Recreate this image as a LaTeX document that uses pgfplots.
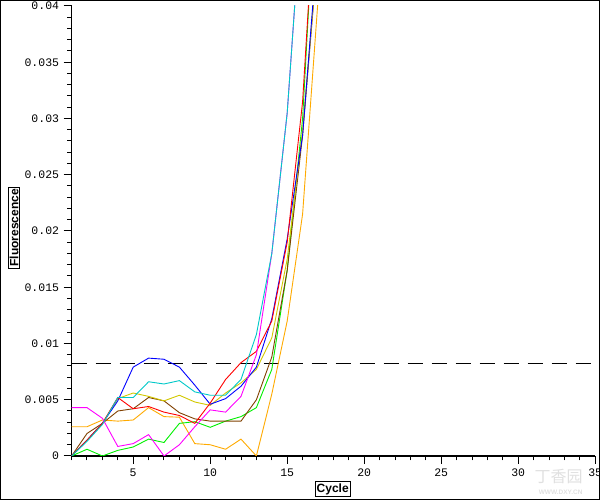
\documentclass[border=0pt]{standalone}
\usepackage{fontspec}
\setmainfont{Liberation Sans}
\setmonofont{Liberation Mono}
\newfontfamily\cjk{Noto Sans CJK SC}
\usepackage{pgfplots}
\pgfplotsset{compat=1.18}
\definecolor{cMag}{RGB}{255,0,255}
\definecolor{cCyan}{RGB}{0,200,200}
\definecolor{cBlue}{RGB}{0,0,255}
\definecolor{cRed}{RGB}{255,0,0}
\definecolor{cGreen}{RGB}{0,240,0}
\definecolor{cYel}{RGB}{210,200,0}
\definecolor{cBrown}{RGB}{128,64,0}
\definecolor{cOrange}{RGB}{255,170,0}
\begin{document}
\begin{tikzpicture}
\useasboundingbox (-71.6pt,-44pt) rectangle (528.4pt,456pt);
\clip (-71.6pt,-44pt) rectangle (528.4pt,456pt);
\node[text=black!12,font=\cjk\fontsize{16}{16}\selectfont] at (487pt,-20pt) {丁香园};
\node[text=black!12,font=\fontsize{6.5}{7}\selectfont\bfseries] at (489pt,-36pt) {WWW.DXY.CN};
\begin{axis}[
  at={(0,0)}, anchor=south west,
  width=523.6pt, height=450pt, scale only axis,
  xmin=1, xmax=35, ymin=0, ymax=0.04,
  axis lines=left,
  axis line style={-, line width=1.4pt},
  tick align=outside,
  major tick length=8pt, minor tick length=4.5pt,
  every tick/.style={black, line width=1pt},
  xtick={5,10,15,20,25,30,35},
  xticklabels={5,10,15,20,25,30,35},
  minor xtick={1,2,3,4,6,7,8,9,11,12,13,14,16,17,18,19,21,22,23,24,26,27,28,29,31,32,33,34},
  ytick={0,0.005,0.01,0.015,0.02,0.025,0.03,0.035,0.04},
  yticklabels={0,0.005,0.01,0.015,0.02,0.025,0.03,0.035,0.04},
  minor y tick num=4,
  scaled y ticks=false,
  ticklabel style={font=\fontsize{11.5}{12}\selectfont\ttfamily},
  yticklabel style={xshift=-1pt},
  xticklabel style={yshift=-1pt},
  xlabel={Cycle},
  ylabel={Fluorescence},
  xlabel style={at={(axis description cs:0.4987,-0.0733)}, anchor=center, draw=black, line width=1pt, inner sep=1.5pt, font=\fontsize{12}{13}\selectfont\bfseries},
  ylabel style={at={(axis description cs:-0.110,0.5067)}, anchor=center, draw=black, line width=1pt, inner sep=1.5pt, font=\fontsize{12}{13}\selectfont\bfseries},
  every axis plot/.append style={line width=0.9pt, mark=none},
]
\addplot[black, line width=1pt, dash pattern=on 15pt off 9pt] coordinates {(1,0.0082) (34.7,0.0082)};
\addplot[cOrange] coordinates {(1,0.0026) (2,0.0026) (3,0.0032) (4,0.0031) (5,0.0032) (6,0.0043) (7,0.0035) (8,0.00345) (9,0.0011) (10,0.0010) (11,0.0006) (12,0.0015) (13,0.0) (14,0.0055) (15,0.012) (16,0.0215) (17,0.0405) (18,0.070)};
\addplot[cGreen] coordinates {(1,0) (2,0.0006) (3,0) (4,0.0005) (5,0.0008) (6,0.0015) (7,0.0012) (8,0.0029) (9,0.00305) (10,0.00255) (11,0.0031) (12,0.0035) (13,0.0043) (14,0.0077) (15,0.0165) (16,0.030) (17,0.055)};
\addplot[cBrown] coordinates {(1,0) (2,0.0020) (3,0.0029) (4,0.0040) (5,0.0042) (6,0.0052) (7,0.0049) (8,0.00385) (9,0.0033) (10,0.0031) (11,0.0031) (12,0.0031) (13,0.0050) (14,0.0088) (15,0.0165) (16,0.0285) (17,0.045)};
\addplot[cYel] coordinates {(1,0) (2,0.0014) (3,0.0029) (4,0.0051) (5,0.0056) (6,0.0053) (7,0.0049) (8,0.0054) (9,0.0048) (10,0.0045) (11,0.0056) (12,0.0065) (13,0.0077) (14,0.0105) (15,0.0175) (16,0.029) (17,0.045)};
\addplot[cBlue] coordinates {(1,0) (2,0.0014) (3,0.0029) (4,0.0049) (5,0.0079) (6,0.0087) (7,0.0086) (8,0.0079) (9,0.0063) (10,0.0046) (11,0.0051) (12,0.0062) (13,0.0079) (14,0.0122) (15,0.0193) (16,0.0285) (17,0.046)};
\addplot[cRed] coordinates {(1,0) (2,0.0014) (3,0.0029) (4,0.0052) (5,0.0042) (6,0.0044) (7,0.0039) (8,0.0036) (9,0.0029) (10,0.0047) (11,0.0068) (12,0.0083) (13,0.0093) (14,0.0120) (15,0.0190) (16,0.0315) (17,0.054)};
\addplot[cMag] coordinates {(1,0.0043) (2,0.0043) (3,0.00335) (4,0.00085) (5,0.0011) (6,0.0019) (7,0.0) (8,0.0010) (9,0.0026) (10,0.0041) (11,0.0039) (12,0.0053) (13,0.0090) (14,0.0180) (15,0.0305) (16,0.050)};
\addplot[cCyan] coordinates {(1,0) (2,0.0013) (3,0.0028) (4,0.0052) (5,0.0052) (6,0.0066) (7,0.0064) (8,0.0067) (9,0.0057) (10,0.0054) (11,0.0054) (12,0.0068) (13,0.0108) (14,0.0180) (15,0.0305) (16,0.050)};
\end{axis}
\draw[black, line width=1.2pt] (-71.0pt,-43.4pt) rectangle (527.8pt,455.4pt);
\end{tikzpicture}
\end{document}
